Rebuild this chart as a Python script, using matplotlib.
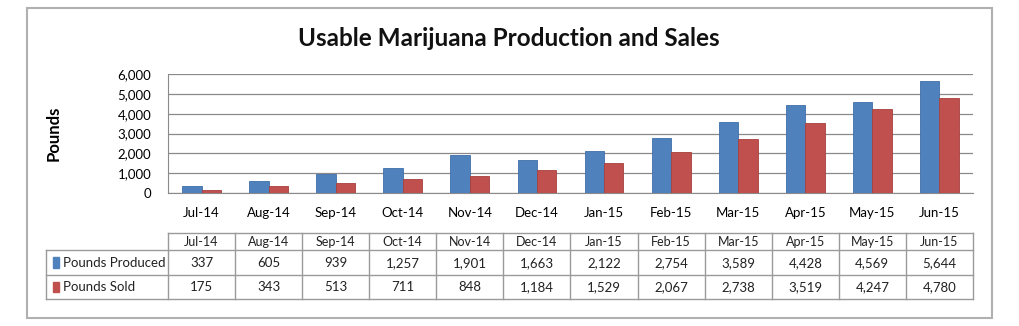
import matplotlib
matplotlib.use("Agg")
import matplotlib.pyplot as plt
from matplotlib.patches import Rectangle
from matplotlib.lines import Line2D

months = ["Jul-14", "Aug-14", "Sep-14", "Oct-14", "Nov-14", "Dec-14",
          "Jan-15", "Feb-15", "Mar-15", "Apr-15", "May-15", "Jun-15"]
produced = [337, 605, 939, 1257, 1901, 1663, 2122, 2754, 3589, 4428, 4569, 5644]
sold = [175, 343, 513, 711, 848, 1184, 1529, 2067, 2738, 3519, 4247, 4780]
series_names = ["Pounds Produced", "Pounds Sold"]
yticks = [0, 1000, 2000, 3000, 4000, 5000, 6000]

BLUE = "#4f81bd"
RED = "#c0504d"
GRID = "#8a8a8a"
TABLE_LINE = "#9a9a9a"

plt.rcParams["font.family"] = ["Lato", "DejaVu Sans"]

W, H = 1020, 326
fig = plt.figure(figsize=(W / 100, H / 100), dpi=100)


def px_axes(x0, y0, x1, y1):
    # axes from pixel box (top-left origin)
    return fig.add_axes([x0 / W, 1 - y1 / H, (x1 - x0) / W, (y1 - y0) / H])


# outer chart frame
fig.patches.append(Rectangle((27 / W, 1 - 318 / H), (992 - 27) / W, (318 - 8) / H,
                             transform=fig.transFigure, fill=False,
                             edgecolor="#b0b0b0", linewidth=1.5))

fig.text(509 / W, 1 - 38 / H, "Usable Marijuana Production and Sales",
         ha="center", va="center", fontsize=17.5, fontweight="bold", color="#111111")

# bar chart
ax = px_axes(168, 74, 973, 193)
x = list(range(len(months)))
bw = 0.29
ax.bar([i - bw / 2 for i in x], produced, width=bw, color=BLUE,
       edgecolor="#3f6fa8", linewidth=0.6, zorder=3)
ax.bar([i + bw / 2 for i in x], sold, width=bw, color=RED,
       edgecolor="#a8403d", linewidth=0.6, zorder=3)
ax.set_xlim(-0.5, len(months) - 0.5)
ax.set_ylim(0, 6000)
ax.set_yticks(yticks)
ax.set_yticklabels([f"{v:,}" for v in yticks], fontsize=9.5)
ax.set_xticks(x)
ax.set_xticklabels(months, fontsize=9.5)
ax.tick_params(axis="y", length=0, pad=12)
ax.tick_params(axis="x", length=0, pad=10)
ax.grid(axis="y", color=GRID, linewidth=0.9, zorder=0)
for side in ["top", "right"]:
    ax.spines[side].set_visible(False)
ax.spines["left"].set_color(GRID)
ax.spines["bottom"].set_color(GRID)
ax.set_ylabel("Pounds", fontsize=12, fontweight="bold", labelpad=40)

# data table under the chart, columns aligned with the bar categories
tax = px_axes(168, 233, 973, 299)
tax.set_xlim(-0.5, len(months) - 0.5)
tax.set_ylim(1, 0)
tax.axis("off")
label_left = -0.5 - (168 - 46) / ((973 - 168) / len(months))
rows = [0.0, 0.265, 0.635, 1.0]

line_kw = dict(color=TABLE_LINE, linewidth=1.0, clip_on=False)
tax.add_line(Line2D([-0.5, len(months) - 0.5], [rows[0]] * 2, **line_kw))
for r in rows[1:]:
    tax.add_line(Line2D([label_left, len(months) - 0.5], [r, r], **line_kw))
tax.add_line(Line2D([label_left, label_left], [rows[1], rows[3]], **line_kw))
for i in range(len(months) + 1):
    tax.add_line(Line2D([i - 0.5, i - 0.5], [rows[0], rows[3]], **line_kw))

for i, m in enumerate(months):
    tax.text(i, (rows[0] + rows[1]) / 2 + 0.01, m, ha="center", va="center",
             fontsize=9, color="#222222")

for r, (name, vals, col) in enumerate(zip(series_names, [produced, sold], [BLUE, RED])):
    yc = (rows[r + 1] + rows[r + 2]) / 2
    tax.add_patch(Rectangle((label_left + 0.1, yc - 0.08), 0.1, 0.16,
                            color=col, clip_on=False))
    tax.text(label_left + 0.26, yc, name, ha="left", va="center",
             fontsize=9.5, color="#222222")
    for i, v in enumerate(vals):
        tax.text(i, yc, f"{v:,}", ha="center", va="center",
                 fontsize=9.5, color="#222222")

fig.savefig("out.png", dpi=100)
